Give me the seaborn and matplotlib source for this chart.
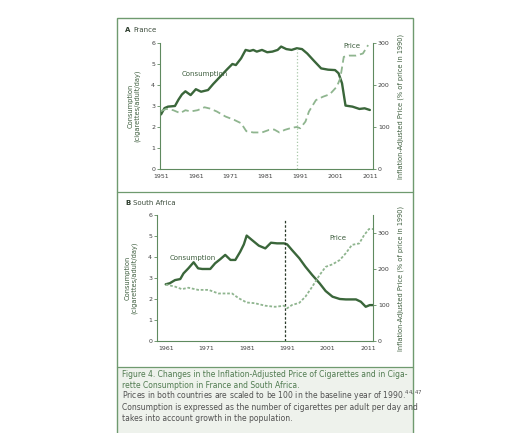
import matplotlib
matplotlib.use("Agg")
import matplotlib.pyplot as plt
import seaborn as sns
from matplotlib.patches import Rectangle
from matplotlib.lines import Line2D

# France - consumption (cigarettes/adult/day) and price (% of 1990 price)
fr_cons_years = [1951, 1952, 1953, 1955, 1956, 1957, 1958, 1959.5, 1961, 1962.5, 1964.5, 1966,
                 1968, 1970, 1971.5, 1972.5, 1974, 1975.3, 1976.5, 1977.5, 1978.5, 1980, 1981.5,
                 1983, 1984.5, 1985.5, 1987, 1988.5, 1990, 1991.5, 1993, 1995, 1997, 1999, 2001,
                 2002, 2003, 2004, 2006, 2008, 2009.5, 2011]
fr_cons = [2.6, 2.9, 2.97, 3.0, 3.3, 3.55, 3.7, 3.52, 3.8, 3.68, 3.76, 4.05,
           4.4, 4.75, 5.0, 4.95, 5.27, 5.67, 5.62, 5.67, 5.59, 5.67, 5.56,
           5.59, 5.67, 5.83, 5.71, 5.67, 5.75, 5.71, 5.5, 5.14, 4.79, 4.73, 4.71,
           4.56, 4.08, 3.02, 2.97, 2.86, 2.89, 2.81]
fr_price_years = [1951, 1952.5, 1954.5, 1956.5, 1958, 1959.5, 1961.5, 1963.5, 1965, 1967, 1969.5,
                  1972, 1974, 1975.5, 1977.5, 1980, 1982, 1983.5, 1985, 1986.5, 1988.5, 1990,
                  1991, 1992.5, 1993.5, 1995.5, 1997.5, 1999.5, 2001.5, 2002.5, 2003.5, 2005,
                  2007, 2009, 2010.5]
fr_price = [138, 143, 140, 133, 140, 137, 140, 147, 144, 137, 125,
            117, 109, 90, 87, 87, 93, 94, 87, 93, 98, 100,
            97, 113, 137, 164, 172, 178, 196, 216, 267, 270,
            270, 275, 295]

# South Africa
sa_cons_years = [1961, 1962, 1963.3, 1964.6, 1965.4, 1966.6, 1967.9, 1969, 1970, 1972, 1973.2,
                 1974.5, 1975.7, 1977, 1978.2, 1979.4, 1980.3, 1981, 1982.3, 1984, 1985.6, 1987,
                 1988.5, 1990.2, 1991, 1992.2, 1994, 1995.5, 1997.2, 1999, 2000.5, 2002.2, 2004,
                 2005.5, 2008, 2009.2, 2010.4, 2011.4, 2012.2]
sa_cons = [2.7, 2.75, 2.9, 2.95, 3.22, 3.46, 3.75, 3.46, 3.43, 3.43, 3.7,
           3.9, 4.1, 3.86, 3.86, 4.25, 4.6, 5.02, 4.81, 4.54, 4.41, 4.68,
           4.65, 4.65, 4.6, 4.33, 3.94, 3.54, 3.14, 2.75, 2.38, 2.11, 2.0,
           1.98, 1.98, 1.87, 1.63, 1.71, 1.71]
sa_price_years = [1961, 1963.3, 1965, 1966.6, 1969, 1971.6, 1974, 1977.4, 1979, 1981, 1983,
                  1985.6, 1988, 1990.2, 1991, 1992.2, 1994, 1995.5, 1997.2, 1999, 2000.5,
                  2002.2, 2004, 2005.5, 2007, 2008.8, 2010, 2011.2, 2012.2]
sa_price = [157, 151, 144, 148, 142, 142, 132, 132, 119, 107, 105,
            98, 95, 98, 91, 100, 106, 123, 151, 183, 206,
            213, 225, 244, 267, 271, 294, 311, 311]

fr_ticks = [1951, 1961, 1971, 1981, 1991, 2001, 2011]
sa_ticks = [1961, 1971, 1981, 1991, 2001, 2011]

caption = [
    ("Figure 4. Changes in the Inflation-Adjusted Price of Cigarettes and in Ciga-", "#4f7a4f"),
    ("rette Consumption in France and South Africa.", "#4f7a4f"),
    ("Prices in both countries are scaled to be 100 in the baseline year of 1990.$^{44,47}$", "#505050"),
    ("Consumption is expressed as the number of cigarettes per adult per day and", "#505050"),
    ("takes into account growth in the population.", "#505050"),
]

sns.set_style("white")
plt.rcParams['font.family'] = ['DejaVu Sans']

GREEN = "#3a663a"
LIGHT = "#8fb58f"
AX = "#5f8a5f"
W, H = 512, 433

fig = plt.figure(figsize=(5.12, 4.33), dpi=100)


def fx(px):
    return px / W


def fy(py):
    return 1 - py / H


# outer frame, caption background and separators
fig.patches.append(Rectangle((fx(117), fy(440)), (413 - 117) / W, (367 - 18 + 73) / H,
                             transform=fig.transFigure, fill=False, ec="#6f9a6f", lw=1.0))
fig.patches.append(Rectangle((fx(117.5), fy(440)), (412.5 - 117.5) / W, (440 - 367) / H,
                             transform=fig.transFigure, fc="#eef2ec", ec="none", zorder=-1))
for yy in (192, 367):
    fig.add_artist(Line2D([fx(117), fx(413)], [fy(yy), fy(yy)], color="#6f9a6f", lw=0.9))


def panel(rect, xlim, ticks, c_years, c_vals, p_years, p_vals, p_max, p_style, vx, vcolor, vstyle,
          cons_xy, price_xy):
    left, top, right, bottom = rect
    ax = fig.add_axes([fx(left), fy(bottom), (right - left) / W, (bottom - top) / H])
    ax2 = ax.twinx()
    sns.lineplot(x=c_years, y=c_vals, ax=ax, color=GREEN, lw=1.7)
    sns.lineplot(x=p_years, y=p_vals, ax=ax2, color=LIGHT, lw=1.3, linestyle=p_style)
    ax.axvline(vx, color=vcolor, lw=0.9, linestyle=vstyle, ymax=0.97)
    ax.set_xlim(*xlim)
    ax.set_ylim(0, 6)
    ax2.set_ylim(0, p_max)
    ax.set_xticks(ticks)
    ax.set_yticks(range(0, 7))
    ax2.set_yticks([0, 100, 200, 300])
    for a in (ax, ax2):
        for s in a.spines.values():
            s.set_color(AX)
            s.set_linewidth(0.8)
        a.spines['top'].set_visible(False)
        a.tick_params(length=2.5, width=0.6, color=AX, labelsize=4.5, labelcolor="#404040", pad=1)
        a.patch.set_alpha(0)
    ax.spines['right'].set_visible(False)
    ax2.spines['left'].set_visible(False)
    ax2.spines['bottom'].set_visible(False)
    ax.set_ylabel("Consumption\n(cigarettes/adult/day)", fontsize=4.8, color="#3d5d3d",
                  linespacing=1.1)
    ax.yaxis.set_label_coords(-0.09, 0.5)
    ax2.set_ylabel("Inflation-Adjusted Price (% of price in 1990)", fontsize=4.8,
                   color="#3d5d3d", rotation=90)
    ax2.yaxis.set_label_coords(1.115, 0.5)
    ax.text(*cons_xy, "Consumption", fontsize=5, color="#3d5d3d", transform=ax.transData)
    ax2.text(*price_xy, "Price", fontsize=5, color="#3d5d3d", transform=ax2.transData)
    return ax


panel((160, 43, 373, 169), (1950.7, 2011.9), fr_ticks, fr_cons_years, fr_cons,
      fr_price_years, fr_price, 300, (0, (4, 2.2)), 1990, "#a9c8a9", ":",
      (1957, 4.45), (2003.5, 288))
panel((157, 215, 373, 341), (1958.85, 2012.2), sa_ticks, sa_cons_years, sa_cons,
      sa_price_years, sa_price, 350, (0, (1.5, 1)), 1990.5, "#2a3a2a", (0, (2, 1.5)),
      (1962, 3.85), (2001.5, 280))

fig.text(fx(125), fy(30), "A", fontsize=5, fontweight="bold", color="#2d3d2d", va="center")
fig.text(fx(133), fy(30), "France", fontsize=5, color="#3d4d3d", va="center")
fig.text(fx(125), fy(203), "B", fontsize=5, fontweight="bold", color="#2d3d2d", va="center")
fig.text(fx(133), fy(203), "South Africa", fontsize=5, color="#3d4d3d", va="center")

for i, (line, col) in enumerate(caption):
    yy = 377 + i * 10.6 + (1.2 if i >= 2 else 0)
    fig.text(fx(122), fy(yy), line, fontsize=5.5, color=col, va="baseline")

fig.savefig("out.png", dpi=100)
